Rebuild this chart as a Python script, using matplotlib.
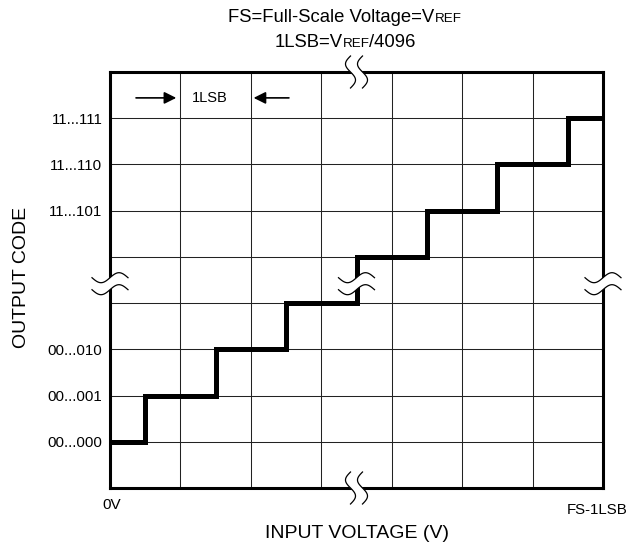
import numpy as np
import matplotlib
matplotlib.use("Agg")
import matplotlib.pyplot as plt

plt.rcParams["font.family"] = ["Liberation Sans", "DejaVu Sans"]

# staircase transfer function (in LSB / code units)
step_edges = [0, 0.5, 1.5, 2.5, 3.5, 4.5, 5.5, 6.5, 7]
step_levels = [1, 2, 3, 4, 5, 6, 7, 8]

code_levels = [1, 2, 3, 6, 7, 8]
code_labels = ["00...000", "00...001", "00...010", "11...101", "11...110", "11...111"]

n_cols = 7
n_rows = 9

W, H = 630, 547
fig = plt.figure(figsize=(W / 100, H / 100), dpi=100)
ax_l, ax_r, ax_t, ax_b = 110, 603, 72, 488
ax = fig.add_axes([ax_l / W, 1 - ax_b / H, (ax_r - ax_l) / W, (ax_b - ax_t) / H])
ax.set_xlim(0, n_cols)
ax.set_ylim(0, n_rows)

sx = (ax_r - ax_l) / n_cols  # px per data unit
sy = (ax_b - ax_t) / n_rows

ax.set_xticks(np.arange(n_cols + 1))
ax.set_xticklabels([])
ylabels = [""] * (n_rows + 1)
for lv, lb in zip(code_levels, code_labels):
    ylabels[lv] = lb
ax.set_yticks(np.arange(n_rows + 1))
ax.set_yticklabels(ylabels, fontsize=10.8)
ax.tick_params(length=0, pad=5.5)
ax.grid(True, color="#222222", linewidth=0.75)
ax.set_axisbelow(True)
for s in ax.spines.values():
    s.set_linewidth(2.2)

ax.stairs(step_levels, step_edges, baseline=None, color="black", linewidth=3.6, zorder=3)


def break_mark(xc, yc, horizontal_line):
    """Draw two S-curves with a white gap across a line at (xc, yc)."""
    t = np.linspace(0, 1, 60)
    half, amp, gap = 16, 5, 6
    curves = []
    for k in (-1, 1):
        if horizontal_line:
            px = k * gap + amp * np.sin(2 * np.pi * t)
            py = (t - 0.5) * 2 * half
        else:
            px = (t - 0.5) * 2 * 18
            py = k * gap - amp * np.sin(2 * np.pi * t)
        curves.append((xc + px / sx, yc + py / sy))
    (x1, y1), (x2, y2) = curves
    ax.fill(np.r_[x1, x2[::-1]], np.r_[y1, y2[::-1]], color="white", zorder=4,
            clip_on=False, linewidth=0)
    for cx, cy in curves:
        ax.plot(cx, cy, color="black", linewidth=0.9, zorder=5, clip_on=False)


break_mark(3.5, n_rows, True)
break_mark(3.5, 0, True)
break_mark(0, 4.42, False)
break_mark(n_cols, 4.42, False)
break_mark(3.5, 4.42, False)

# 1LSB marker
ax.annotate("", xy=(0.98, 8.44), xytext=(0.33, 8.44),
            arrowprops=dict(arrowstyle="-|>", color="black", lw=1.2, mutation_scale=18))
ax.annotate("", xy=(2.0, 8.44), xytext=(2.58, 8.44),
            arrowprops=dict(arrowstyle="-|>", color="black", lw=1.2, mutation_scale=18))
ax.text(1.42, 8.44, "1LSB", fontsize=10.5, ha="center", va="center")

fig.text(22 / W, 1 - 277 / H, "OUTPUT CODE", fontsize=14, rotation=90,
         ha="center", va="center")
fig.text(357 / W, 1 - 533 / H, "INPUT VOLTAGE (V)", fontsize=14, ha="center", va="center")
fig.text(112 / W, 1 - 505 / H, "0V", fontsize=11, ha="center", va="center")
fig.text(628 / W, 1 - 510 / H, "FS-1LSB", fontsize=10.8, ha="right", va="center")


def rich_line(segments, xc, y_base):
    """Place text pieces side by side, centred at xc, sharing a baseline."""
    fig.canvas.draw()
    r = fig.canvas.get_renderer()
    texts = [fig.text(0, y_base, s, fontsize=fs, va="baseline") for s, fs in segments]
    widths = [t.get_window_extent(r).width for t in texts]
    x = xc - sum(widths) / 2
    for t, w in zip(texts, widths):
        t.set_x(x / W)
        x += w


rich_line([("FS=Full-Scale Voltage=V", 13.3), ("REF", 9.6)], 345, 1 - 22 / H)
rich_line([("1LSB=V", 13.3), ("REF", 9.6), ("/4096", 13.3)], 345, 1 - 47 / H)

fig.savefig("out.png", dpi=100)
